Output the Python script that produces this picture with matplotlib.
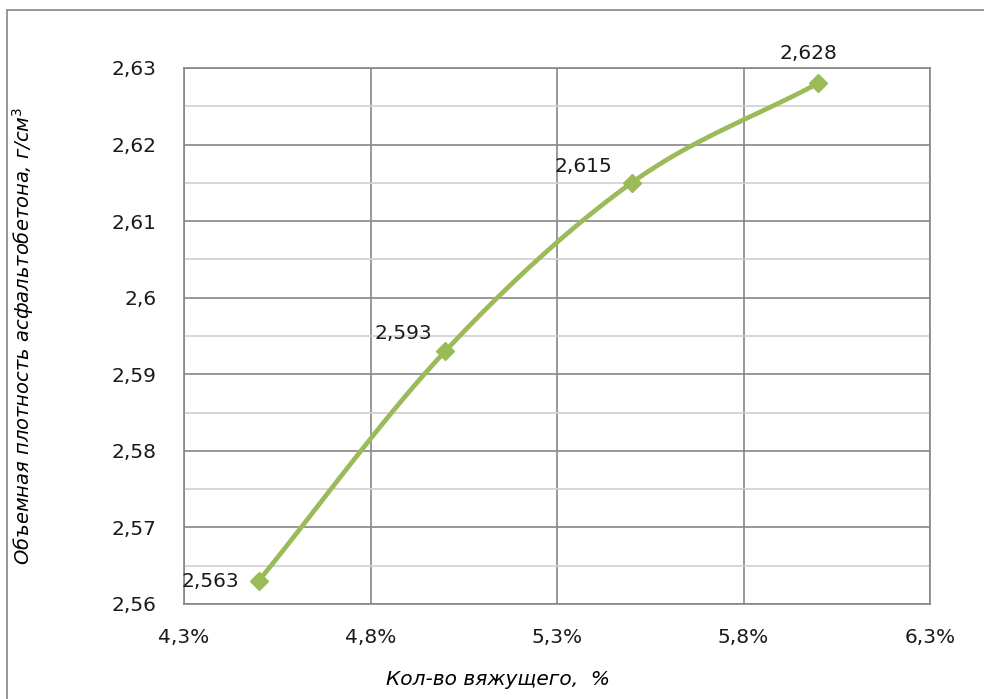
import matplotlib
matplotlib.use("Agg")
import matplotlib.pyplot as plt
import numpy as np
from matplotlib.ticker import MultipleLocator, FuncFormatter
from matplotlib.patches import Rectangle

# data
binder = [4.5, 5.0, 5.5, 6.0]          # Кол-во вяжущего, %
density = [2.563, 2.593, 2.615, 2.628]  # г/см3
labels = ["2,563", "2,593", "2,615", "2,628"]
label_off = [(-14, 0, 'right'), (-9, 13, 'right'), (-14, 11.5, 'right'), (-7, 21.5, 'center')]
xticks = [4.3, 4.8, 5.3, 5.8, 6.3]

plt.rcParams['font.family'] = 'sans-serif'
plt.rcParams['font.sans-serif'] = ['DejaVu Sans']
FS = 14.5

fig = plt.figure(figsize=(9.84, 6.99), dpi=100)
ax = fig.add_axes([184/984, 1 - 604/699, (930-184)/984, (604-68)/699])

# outer chart frame
fig.patches.append(Rectangle((7/984, -0.1), 1.2, 0.1 + (699-10)/699,
                             transform=fig.transFigure, fill=False,
                             edgecolor='#868686', lw=1.2))

# smoothed line like excel (catmull-rom through the points)
def smooth(xs, ys, n=30):
    P = np.column_stack([xs, ys])
    P = np.vstack([P[0] - (P[1] - P[0]), P, P[-1] + (P[-1] - P[-2])])
    out = []
    for i in range(1, len(P) - 2):
        p0, p1, p2, p3 = P[i-1], P[i], P[i+1], P[i+2]
        t = np.linspace(0, 1, n)[:, None]
        seg = 0.5 * ((2*p1) + (-p0 + p2)*t + (2*p0 - 5*p1 + 4*p2 - p3)*t**2
                     + (-p0 + 3*p1 - 3*p2 + p3)*t**3)
        out.append(seg)
    out = np.vstack(out)
    return out[:, 0], out[:, 1]

sx, sy = smooth(binder, density)
ax.plot(sx, sy, color='#9bbb59', lw=3.4, solid_capstyle='round', zorder=3)
ax.plot(binder, density, linestyle='none', marker='D', color='#9bbb59',
        markersize=9, zorder=4)

for x, y, t, (dx, dy, ha) in zip(binder, density, labels, label_off):
    ax.annotate(t, (x, y), xytext=(dx, dy), textcoords='offset points',
                ha=ha, va='center', fontsize=FS, color='#1a1a1a')

ax.set_xlim(4.3, 6.3)
ax.set_ylim(2.56, 2.63)
ax.set_xticks(xticks)
ax.yaxis.set_major_locator(MultipleLocator(0.01))
ax.yaxis.set_minor_locator(MultipleLocator(0.005))
ax.xaxis.set_major_formatter(FuncFormatter(lambda v, p: ("%.1f%%" % v).replace('.', ',')))
ax.yaxis.set_major_formatter(FuncFormatter(lambda v, p: ("%g" % round(v, 3)).replace('.', ',')))

ax.grid(which='major', color='#868686', lw=1.2)
ax.grid(which='minor', axis='y', color='#d0d0d0', lw=1.2)
ax.set_axisbelow(True)
for s in ax.spines.values():
    s.set_color('#868686')
    s.set_linewidth(1.2)
ax.tick_params(which='both', length=0, labelsize=FS, colors='#1a1a1a')
ax.tick_params(axis='x', pad=17)
ax.tick_params(axis='y', pad=20)

ax.set_xlabel("Кол-во вяжущего,  %", fontsize=FS, style='italic')
ax.xaxis.set_label_coords((498-184)/746, -(670-604)/536)
ax.set_ylabel("Объемная плотность асфальтобетона, г/см$^3$", fontsize=14,
              style='italic')
ax.yaxis.set_label_coords(-(184-23)/746, 0.5)
ax.yaxis.label.set_verticalalignment('center')

fig.savefig("out.png", dpi=100)
